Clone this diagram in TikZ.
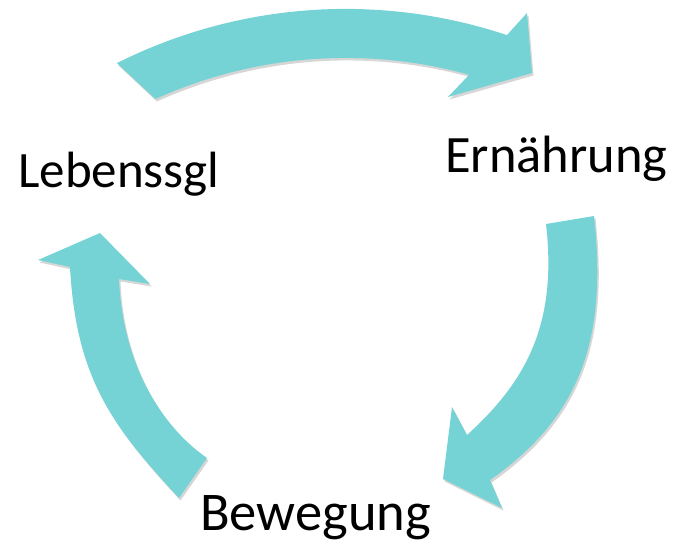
\documentclass[tikz,border=0pt]{standalone}
\usepackage{fontspec}
\setmainfont{Carlito}
\usetikzlibrary{shadows}
\definecolor{arrowteal}{RGB}{117,211,213}
\tikzset{
  blockarrow/.style={fill=arrowteal, drop shadow={shadow xshift=1.5pt, shadow yshift=-2.5pt, opacity=0.16, fill=black}},
  label/.style={inner sep=0pt, anchor=base west, text=black}
}
\begin{document}
\begin{tikzpicture}[x=1pt,y=-1pt]
\useasboundingbox (0,0) rectangle (675,547);
% top arrow
\fill[blockarrow] plot[domain=-116.65:-71.57, samples=50] ({345.7+510*cos(\x)},{518.9+510*sin(\x)})
  -- (527,13) -- (532,73) -- (448,97) -- (468,76)
  -- plot[domain=-74.56:-114.38, samples=50] ({345.7+461*cos(\x)},{518.9+461*sin(\x)}) -- cycle;
% right arrow
\fill[blockarrow] (594,216) .. controls (607.6,340) and (580,417) .. (490,480)
  -- (502,508) -- (443,479) -- (452,407) -- (467,435)
  .. controls (526.2,381.4) and (557.5,324) .. (546,224) -- cycle;
% left arrow
\fill[blockarrow] (179,498) .. controls (111,425) and (76,377) .. (70,267)
  -- (38,260) -- (100,233) -- (150,284) -- (119,279)
  .. controls (122.2,359) and (157.8,423.8) .. (207,458) -- cycle;
\node[label, font=\fontsize{51}{60}\selectfont] (leb) at (18,187) {Lebenssgl};
\node[label, font=\fontsize{52.5}{60}\selectfont] (ern) at (445,172) {Ernährung};
\node[label, font=\fontsize{54.5}{60}\selectfont] (bew) at (200,530) {Bewegung};
\end{tikzpicture}
\end{document}
